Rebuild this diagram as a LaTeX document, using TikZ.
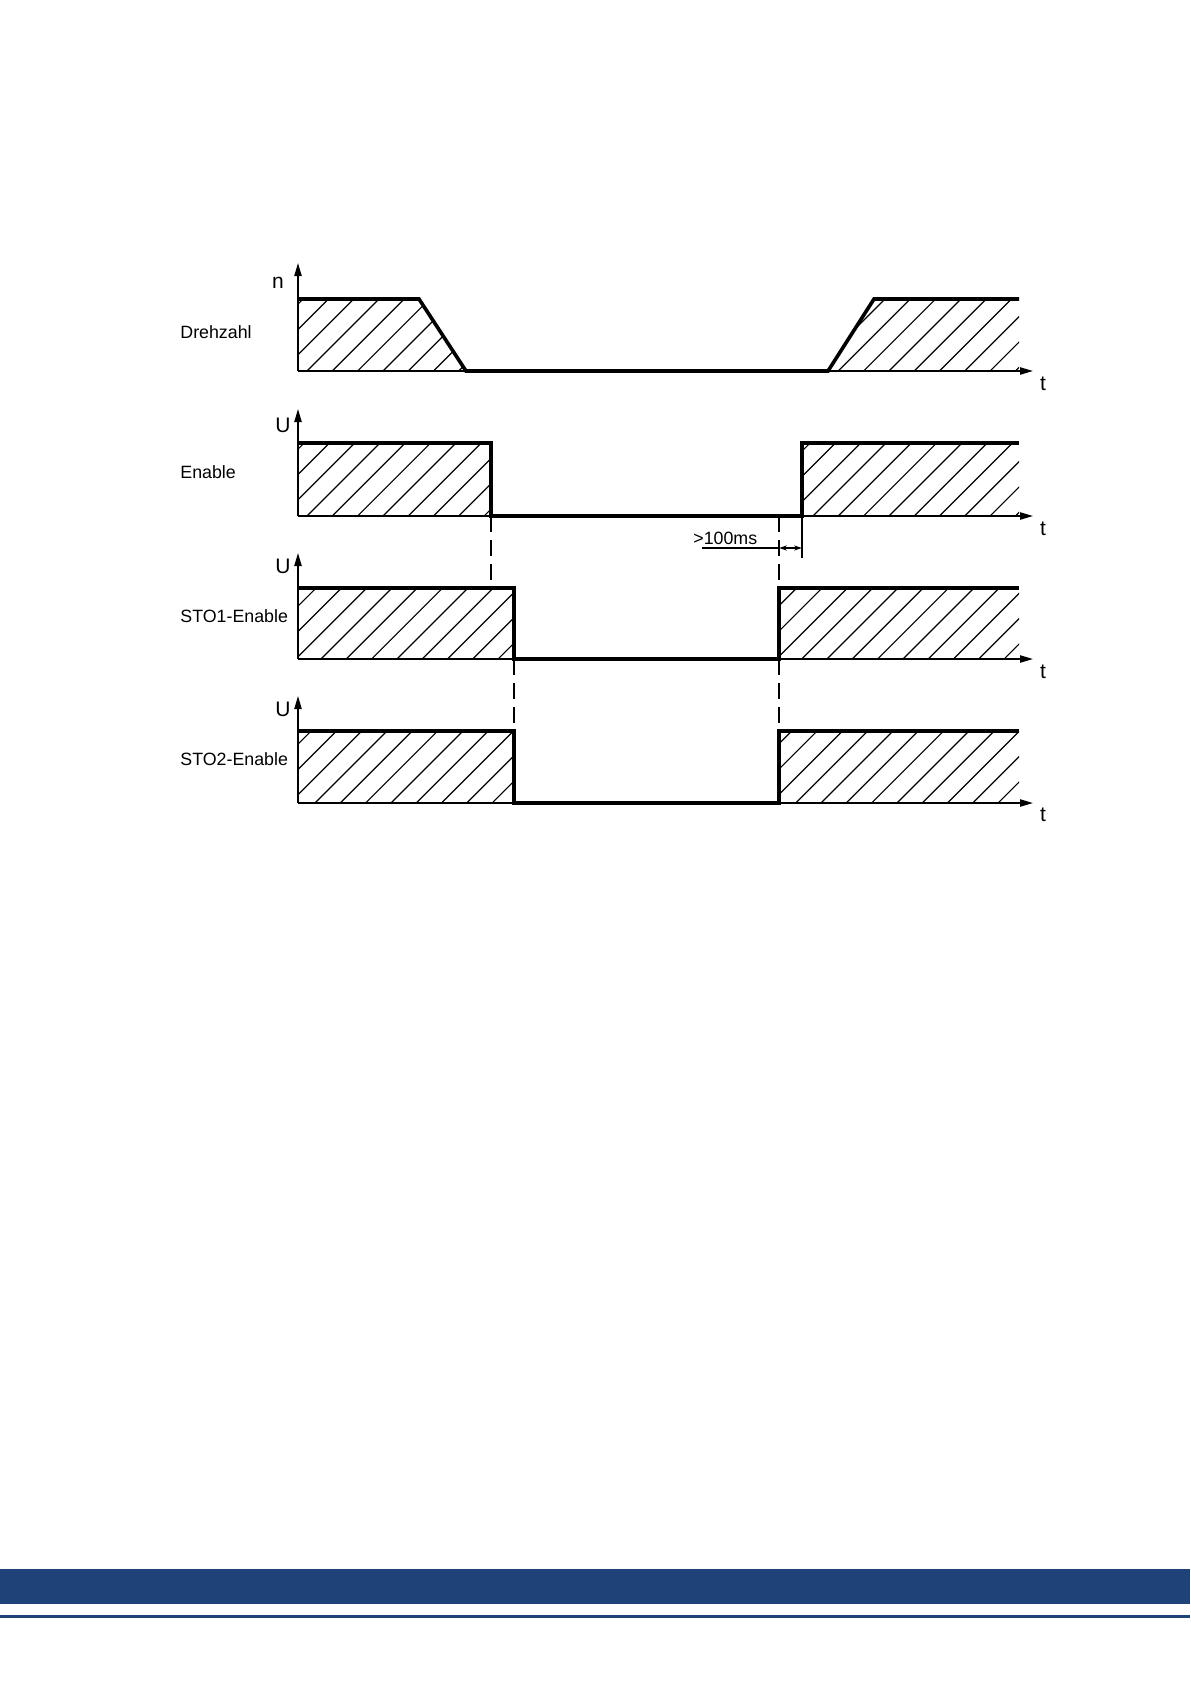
\documentclass[tikz,border=0pt]{standalone}
\usepackage{fontspec}
\setmainfont{Liberation Sans}
\usetikzlibrary{arrows.meta}
\definecolor{bandblue}{HTML}{1F4279}
\tikzset{
  sig/.style={line width=1.8pt, line join=miter, line cap=butt},
  axisline/.style={line width=0.8pt, -{Triangle[length=6.5pt,width=3.6pt]}},
  hatchline/.style={line width=0.6pt},
  dashline/.style={line width=0.7pt, dash pattern=on 8pt off 4pt},
  thinline/.style={line width=0.7pt},
  lbl/.style={font=\fontsize{8.9pt}{10pt}\selectfont, anchor=base west, inner sep=0pt},
  axl/.style={font=\fontsize{10.5pt}{12pt}\selectfont, anchor=base, inner sep=0pt},
}
\newcommand{\hatchlines}[2]{% #1 baseline y, #2 offset
  \foreach \k in {-4,...,30}{
    \draw[hatchline] ({298+#2+\k*25.3-30},{#1+30}) -- ++(140,-140);
  }
}
\begin{document}
\begin{tikzpicture}[x=0.5pt,y=-0.5pt]
\useasboundingbox (0,0) rectangle (1190,1683);
\fill[white] (0,0) rectangle (1190,1683);

% ---------- Drehzahl ----------
\begin{scope}
  \clip (298,371) -- (298,299) -- (419,299) -- (466,371) -- cycle
        (828,371) -- (874,299) -- (1019,299) -- (1019,371) -- cycle;
  \hatchlines{371}{9}
\end{scope}
\coordinate (n0) at (298,371);
\coordinate (ntip) at (298,263);
\coordinate (nend) at (1033,371);
\draw[axisline] (n0) -- (ntip);
\draw[axisline] (n0) -- (nend);
\draw[sig] (298,299) -- (419,299) -- (466,371) -- (828,371) -- (874,299) -- (1019,299);
\node[axl] (nlab) at (278,288) {n};
\node[axl] (nt) at (1043,390) {t};
\node[lbl] (ldreh) at (180,338) {Drehzahl};

% ---------- Enable ----------
\begin{scope}
  \clip (298,516) rectangle (491,443) (802,516) rectangle (1019,443);
  \hatchlines{516}{9}
\end{scope}
\coordinate (e0) at (298,516);
\coordinate (etip) at (298,409);
\coordinate (eend) at (1033,516);
\draw[axisline] (e0) -- (etip);
\draw[axisline] (e0) -- (eend);
\draw[sig] (298,443) -- (491,443) -- (491,516) -- (802,516) -- (802,443) -- (1019,443);
\node[axl] (elab) at (283,432) {U};
\node[axl] (et) at (1043,535) {t};
\node[lbl] (lena) at (180,478) {Enable};

% dimension >100ms
\coordinate (ext0) at (802,516);
\coordinate (ext1) at (802,558);
\draw[thinline] (ext0) -- (ext1);
\coordinate (d0) at (702,548);
\coordinate (d1) at (779,548);
\coordinate (d2) at (802,548);
\draw[thinline] (d0) -- (d1);
\draw[thinline, {Stealth[length=4pt,width=2.6pt]}-{Stealth[length=4pt,width=2.6pt]}] (d1) -- (d2);
\node[lbl] (dim) at (693,544) {>100ms};

% ---------- STO1 ----------
\begin{scope}
  \clip (298,659) rectangle (514,588) (779,659) rectangle (1019,588);
  \hatchlines{659}{23}
\end{scope}
\coordinate (s0) at (298,659);
\coordinate (stip) at (298,553);
\coordinate (send) at (1033,659);
\draw[axisline] (s0) -- (stip);
\draw[axisline] (s0) -- (send);
\draw[sig] (298,588) -- (514,588) -- (514,659) -- (779,659) -- (779,588) -- (1019,588);
\node[axl] (slab) at (283,573) {U};
\node[axl] (st) at (1043,678) {t};
\node[lbl] (lsto1) at (180,622) {STO1-Enable};

% ---------- STO2 ----------
\begin{scope}
  \clip (298,803) rectangle (514,731) (779,803) rectangle (1019,731);
  \hatchlines{803}{17}
\end{scope}
\coordinate (u0) at (298,803);
\coordinate (utip) at (298,696);
\coordinate (uend) at (1033,803);
\draw[axisline] (u0) -- (utip);
\draw[axisline] (u0) -- (uend);
\draw[sig] (298,731) -- (514,731) -- (514,803) -- (779,803) -- (779,731) -- (1019,731);
\node[axl] (ulab) at (283,716) {U};
\node[axl] (ut) at (1043,821) {t};
\node[lbl] (lsto2) at (180,765) {STO2-Enable};

% ---------- dashed links ----------
\draw[dashline] (491,516) -- (491,588);
\draw[dashline] (779,516) -- (779,588);
\draw[dashline] (514,659) -- (514,731);
\draw[dashline] (779,659) -- (779,731);

% ---------- footer band ----------
\fill[bandblue] (0,1569) rectangle (1190,1604);
\fill[bandblue] (0,1615) rectangle (1190,1617.5);
\end{tikzpicture}
\end{document}
